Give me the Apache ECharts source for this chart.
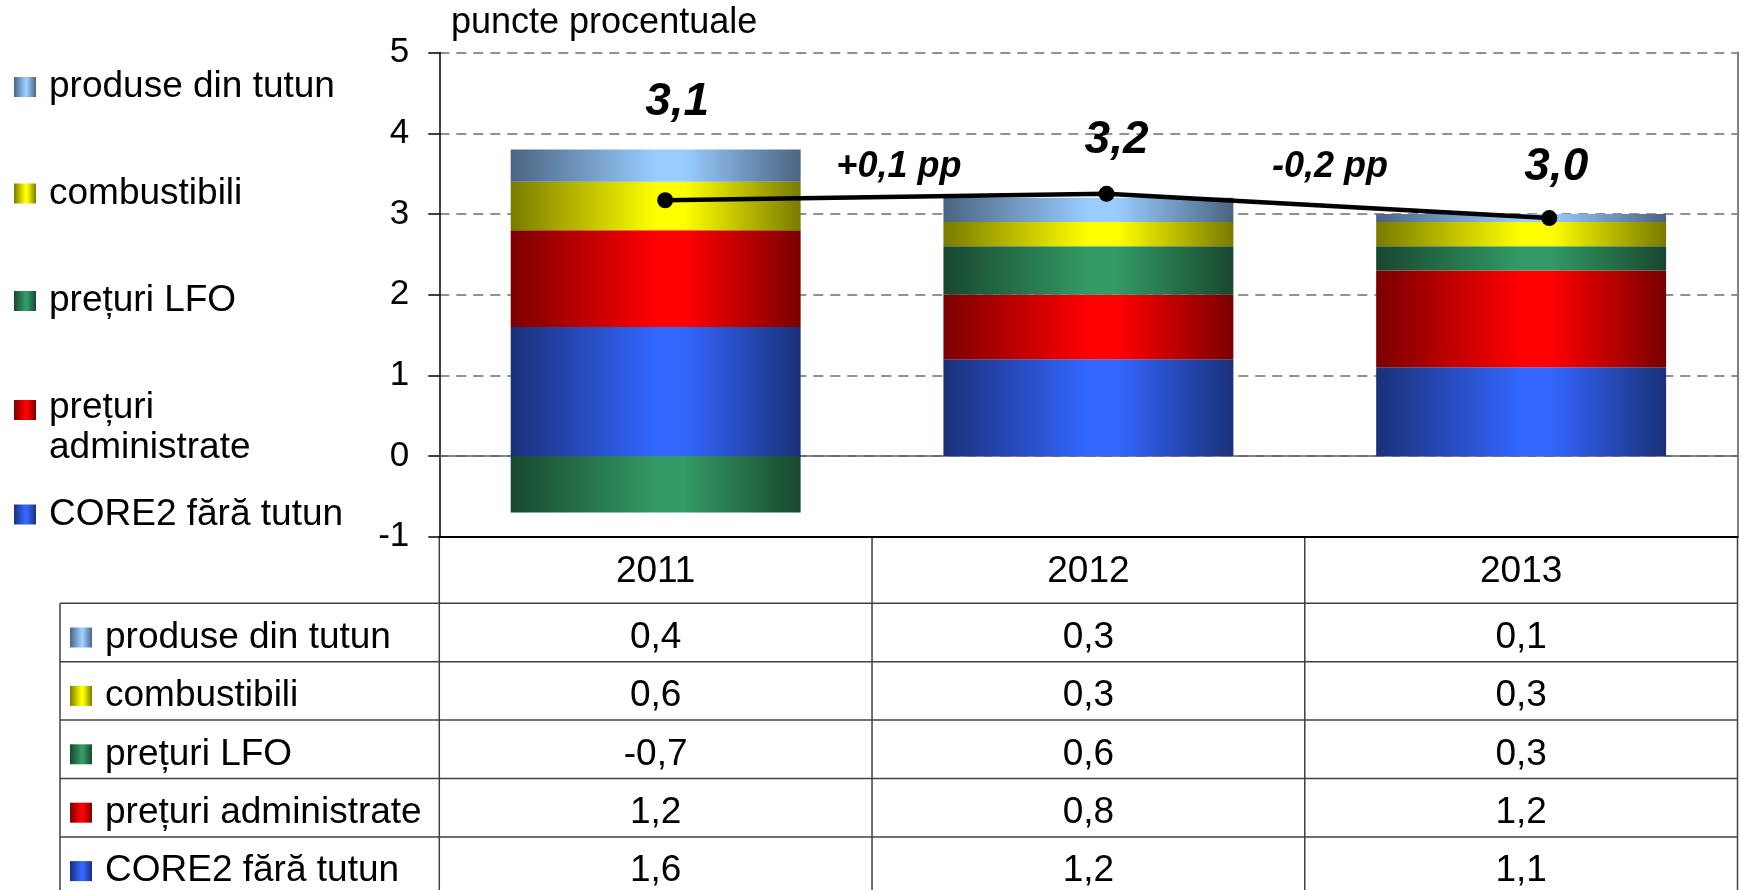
<!DOCTYPE html>
<html>
<head>
<meta charset="utf-8">
<title>Contribuții la inflație</title>
<script src="https://cdn.jsdelivr.net/npm/echarts/dist/echarts.min.js"></script>
<style>
  html, body { margin: 0; padding: 0; background: #fff; }
  #chart { width: 1742px; height: 890px; }
</style>
</head>
<body>
<div id="chart"></div>
<script>
// date (puncte procentuale)
const years = ['2011', '2012', '2013'];
const seriesNames = ['produse din tutun', 'combustibili', 'prețuri LFO', 'prețuri administrate', 'CORE2 fără tutun'];
const tutun = [0.4, 0.3, 0.1];
const combustibili = [0.6, 0.3, 0.3];
const lfo = [-0.7, 0.6, 0.3];
const administrate = [1.2, 0.8, 1.2];
const core2 = [1.6, 1.2, 1.1];
// rata inflatiei (linia neagra) si etichetele ei
const inflation = [3.17, 3.25, 2.95];
const inflationPos = [0.522, 1.542, 2.565];
const inflationLabels = ['3,1', '3,2', '3,0'];
const changeLabels = ['+0,1 pp', '-0,2 pp'];
const yMin = -1, yMax = 5, yStep = 1;

const seriesData = [tutun, combustibili, lfo, administrate, core2];

const font = "'Liberation Sans', Arial, sans-serif";
// [luminos, inchis]
const colors = [
  ['#99ccff', '#4b6482'],
  ['#ffff00', '#7a7a00'],
  ['#339966', '#19472f'],
  ['#ff0000', '#7a0000'],
  ['#3366ff', '#1a3078']
];

function grad(c) {
  return new echarts.graphic.LinearGradient(0, 0, 1, 0, [
    { offset: 0, color: c[1] },
    { offset: 0.5, color: c[0] },
    { offset: 0.6, color: c[0] },
    { offset: 1, color: c[1] }
  ]);
}
function fmt(v) {
  return v.toFixed(1).replace('.', ',');
}

// layout
const gx0 = 439.3, gx1 = 1737.5, gTop = 52.6, gBottom = 536.8;
const colW = (gx1 - gx0) / 3;
const rowTop = 603.3, rowH = 58.4, tableLeft = 60, H = 890;

const legendTops = [68.5, 175, 282.5, 388, 496];
const labelOffsets = [[12, -98], [10, -54], [7, -51]];
const changeOffsets = [[13, -30], [2, -39]];
// patratel sus + punct invizibil jos, ca iconita sa stea pe primul rand al textului pe doua randuri
const tallIcon = 'path://M0,0L22,0L22,20L0,20Z M0,56L22,56L22,56.01Z';

var myChart = echarts.init(document.getElementById('chart'));

// bare, de jos in sus: CORE2, administrate, LFO, combustibili, tutun
var barSeries = [];
for (let i = seriesNames.length - 1; i >= 0; i--) {
  barSeries.push({
    name: seriesNames[i],
    type: 'bar',
    stack: 'total',
    xAxisIndex: 0,
    yAxisIndex: 0,
    barCategoryGap: '33%',
    itemStyle: { color: grad(colors[i]) },
    data: seriesData[i]
  });
}

var lineData = inflation.map((v, i) => ({
  value: [inflationPos[i], v],
  label: { offset: labelOffsets[i] }
}));

var changeData = changeLabels.map((t, i) => ({
  value: [(inflationPos[i] + inflationPos[i + 1]) / 2, (inflation[i] + inflation[i + 1]) / 2],
  label: { offset: changeOffsets[i] }
}));

var legends = seriesNames.map((n, i) => {
  let twoLines = n === 'prețuri administrate';
  return {
    data: [{ name: n, icon: twoLines ? tallIcon : 'rect' }],
    orient: 'vertical',
    left: 14,
    top: legendTops[i],
    padding: 0,
    itemGap: 0,
    itemWidth: 22,
    itemHeight: twoLines ? 56 : 20,
    selectedMode: false,
    formatter: twoLines ? 'prețuri\nadministrate' : '{name}',
    textStyle: {
      fontFamily: font, fontSize: 37, color: '#000',
      lineHeight: twoLines ? 40 : undefined,
      padding: [0, 0, 0, 8]
    }
  };
});

// tabelul de sub grafic
var g = [];
var lineStyle = { stroke: '#404040', lineWidth: 1.5 };
for (let k = 0; k <= 3; k++) {
  let x = gx0 + k * colW;
  g.push({ type: 'line', shape: { x1: x, y1: gBottom, x2: x, y2: H }, style: lineStyle });
}
g.push({ type: 'line', shape: { x1: tableLeft, y1: rowTop, x2: tableLeft, y2: H }, style: lineStyle });
for (let r = 0; r < seriesNames.length; r++) {
  let y = rowTop + r * rowH;
  g.push({ type: 'line', shape: { x1: tableLeft, y1: y, x2: gx1, y2: y }, style: lineStyle });
}
years.forEach((yr, c) => {
  g.push({
    type: 'text', x: gx0 + (c + 0.5) * colW, y: (gBottom + rowTop) / 2 + 2,
    style: { text: yr, font: '37px ' + font, fill: '#000', align: 'center', verticalAlign: 'middle' }
  });
});
seriesNames.forEach((n, r) => {
  let cy = rowTop + (r + 0.5) * rowH + 5;
  g.push({ type: 'rect', shape: { x: 70, y: cy - 10, width: 22, height: 20 }, style: { fill: grad(colors[r]) } });
  g.push({
    type: 'text', x: 105, y: cy,
    style: { text: n, font: '37px ' + font, fill: '#000', align: 'left', verticalAlign: 'middle' }
  });
  seriesData[r].forEach((v, c) => {
    g.push({
      type: 'text', x: gx0 + (c + 0.5) * colW, y: cy,
      style: { text: fmt(v), font: '37px ' + font, fill: '#000', align: 'center', verticalAlign: 'middle' }
    });
  });
});

var option = {
  animation: false,
  backgroundColor: '#fff',
  textStyle: { fontFamily: font },
  title: {
    text: 'puncte procentuale',
    left: 451,
    top: 5,
    padding: 0,
    textStyle: { fontFamily: font, fontSize: 36, fontWeight: 'normal', color: '#000' }
  },
  legend: legends,
  grid: { left: gx0, right: 1742 - gx1, top: gTop, bottom: H - gBottom, containLabel: false },
  xAxis: [
    {
      type: 'category',
      data: years,
      axisLine: { onZero: true, lineStyle: { color: '#606060', width: 1.5 } },
      axisTick: { show: false },
      axisLabel: { show: false },
      splitLine: { show: false }
    },
    {
      type: 'value',
      min: 0,
      max: 3,
      position: 'bottom',
      axisLine: { show: true, onZero: false, lineStyle: { color: '#000', width: 2 } },
      axisTick: { show: false },
      axisLabel: { show: false },
      splitLine: { show: false }
    }
  ],
  yAxis: [
    {
      type: 'value',
      min: yMin,
      max: yMax,
      interval: yStep,
      axisLine: { show: true, lineStyle: { color: '#000', width: 1.5 } },
      axisTick: { show: true, length: 11, lineStyle: { color: '#000', width: 1.5 } },
      axisLabel: { fontFamily: font, fontSize: 35, color: '#000', margin: 30 },
      splitLine: { show: true, lineStyle: { color: '#6e6e6e', width: 1.5, type: [10, 7] } }
    },
    {
      type: 'value',
      min: yMin,
      max: yMax,
      interval: yStep,
      position: 'right',
      axisLine: { show: true, lineStyle: { color: '#808080', width: 2 } },
      axisTick: { show: false },
      axisLabel: { show: false },
      splitLine: { show: false }
    }
  ],
  series: barSeries.concat([
    {
      name: 'inflatie',
      type: 'line',
      xAxisIndex: 1,
      yAxisIndex: 0,
      z: 5,
      symbol: 'circle',
      symbolSize: 16,
      lineStyle: { color: '#000', width: 4.5 },
      itemStyle: { color: '#000' },
      label: {
        show: true,
        position: 'inside',
        formatter: p => inflationLabels[p.dataIndex],
        fontFamily: font, fontSize: 46, fontWeight: 'bold', fontStyle: 'italic', color: '#000'
      },
      data: lineData
    },
    {
      name: 'variatie',
      type: 'scatter',
      xAxisIndex: 1,
      yAxisIndex: 0,
      symbolSize: 0,
      z: 5,
      itemStyle: { opacity: 1 },
      label: {
        show: true,
        position: 'inside',
        formatter: p => changeLabels[p.dataIndex],
        fontFamily: font, fontSize: 36, fontWeight: 'bold', fontStyle: 'italic', color: '#000'
      },
      data: changeData
    }
  ]),
  graphic: g
};

myChart.setOption(option);
</script>
</body>
</html>
